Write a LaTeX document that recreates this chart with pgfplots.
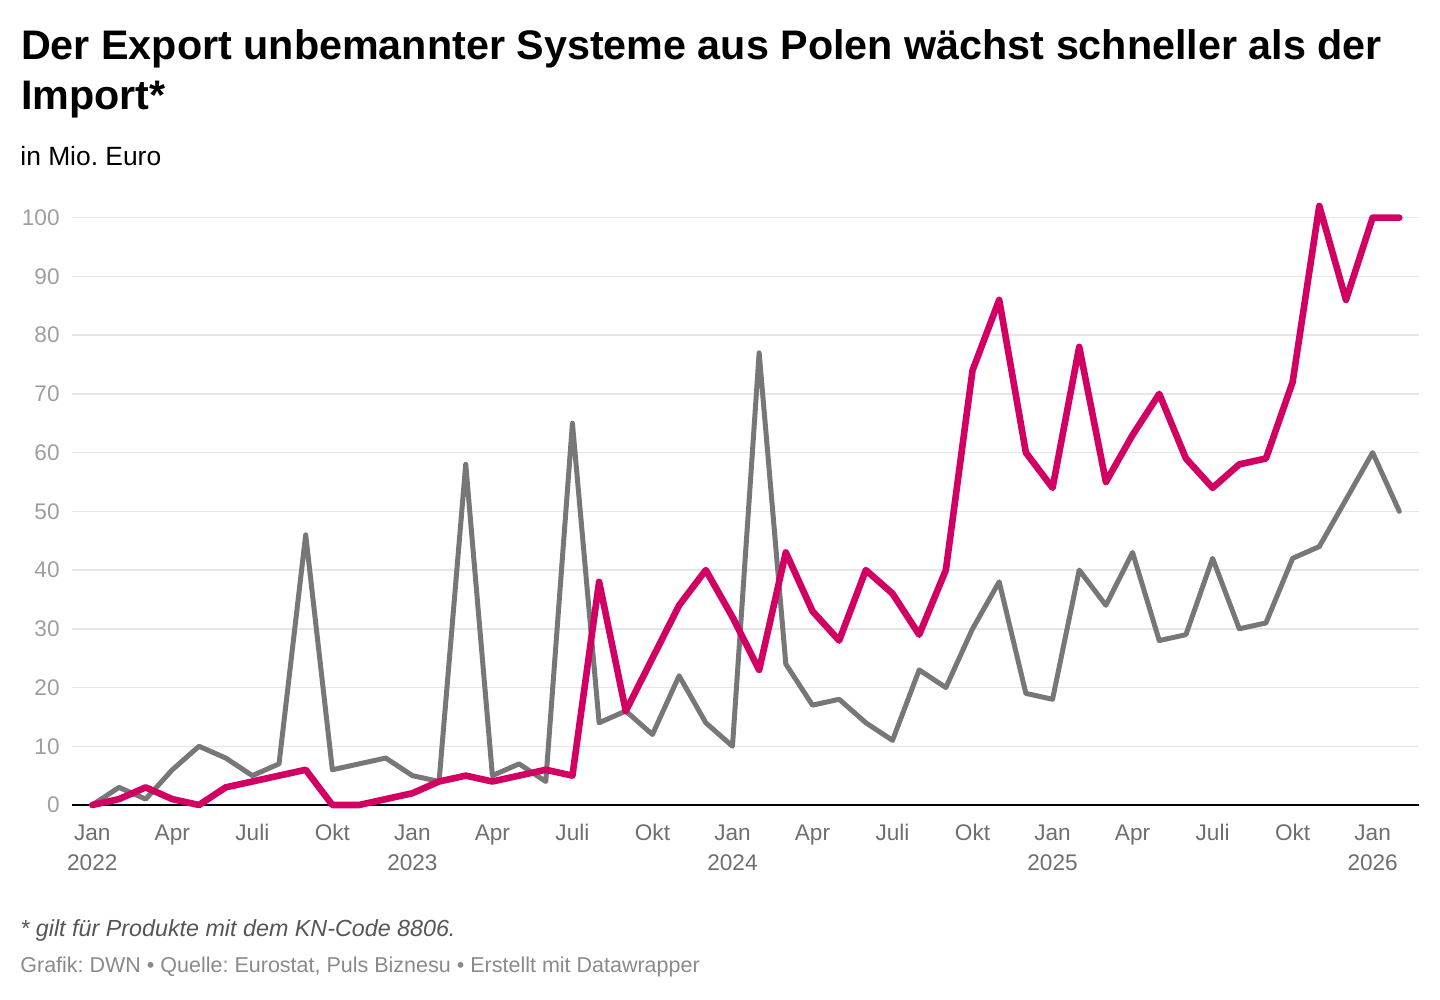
\documentclass[border=0pt]{standalone}
\usepackage{fontspec}
\setmainfont{Liberation Sans}
\usepackage{pgfplots}
\pgfplotsset{compat=1.18}
\frenchspacing
\definecolor{expcol}{HTML}{D20062}
\definecolor{impcol}{HTML}{777777}
\definecolor{gridcol}{HTML}{E6E6E6}
\definecolor{ylab}{HTML}{9E9E9E}
\definecolor{xlab}{HTML}{6E6E6E}
\definecolor{foot}{HTML}{555555}
\definecolor{src}{HTML}{8A8A8A}
\newcommand{\tl}[1]{\vphantom{Jl}#1}
\pgfplotstableread{
x imp exp
0 0 0
1 3 1
2 1 3
3 6 1
4 10 0
5 8 3
6 5 4
7 7 5
8 46 6
9 6 0
10 7 0
11 8 1
12 5 2
13 4 4
14 58 5
15 5 4
16 7 5
17 4 6
18 65 5
19 14 38
20 16 16
21 12 25
22 22 34
23 14 40
24 10 32
25 77 23
26 24 43
27 17 33
28 18 28
29 14 40
30 11 36
31 23 29
32 20 40
33 30 74
34 38 86
35 19 60
36 18 54
37 40 78
38 34 55
39 43 63
40 28 70
41 29 59
42 42 54
43 30 58
44 31 59
45 42 72
46 44 102
47 52 86
48 60 100
49 50 100
}\datatable
\begin{document}
\begin{tikzpicture}
\path[use as bounding box] (0,0) rectangle (720pt,500pt);
\begin{axis}[
  at={(36.15pt,97.5pt)}, anchor=south west,
  scale only axis, width=673.5pt, height=305.4pt,
  xmin=-0.75, xmax=49.75, ymin=0, ymax=104,
  clip=false,
  axis line style={draw=none},
  major tick length=0pt,
  ytick={0,10,...,100},
  ymajorgrids,
  grid style={color=gridcol, line width=0.75pt},
  extra y ticks={0},
  extra y tick labels={},
  extra y tick style={grid style={color=black, line width=1pt}},
  yticklabel style={font=\fontsize{11.3}{13}\selectfont, color=ylab, anchor=east, inner sep=0pt, xshift=-6.15pt},
  /pgf/number format/assume math mode=true,
  xtick={0,3,...,48},
  xticklabels={{\tl{Jan}\\2022},\tl{Apr},\tl{Juli},\tl{Okt},{\tl{Jan}\\2023},\tl{Apr},\tl{Juli},\tl{Okt},{\tl{Jan}\\2024},\tl{Apr},\tl{Juli},\tl{Okt},{\tl{Jan}\\2025},\tl{Apr},\tl{Juli},\tl{Okt},{\tl{Jan}\\2026}},
  xticklabel style={font=\fontsize{11.3}{15}\selectfont, color=xlab, align=center, anchor=north, inner sep=0pt, yshift=-9.5pt},
]
\addplot[impcol, line width=2.5pt, line join=round, line cap=round] table[x=x, y=imp] {\datatable};
\addplot[expcol, line width=3.3pt, line join=round, line cap=round] table[x=x, y=exp] {\datatable};
\end{axis}
\node[anchor=base west, inner sep=0, font=\bfseries\fontsize{20.65}{25}\selectfont] at (10.3pt,470.3pt) {Der Export unbemannter Systeme aus Polen wächst schneller als der};
\node[anchor=base west, inner sep=0, font=\bfseries\fontsize{20.65}{25}\selectfont] at (10.3pt,445pt) {Import*};
\node[anchor=base west, inner sep=0, font=\fontsize{13.2}{15}\selectfont] at (10pt,417pt) {in Mio. Euro};
\node[anchor=base west, inner sep=0, font=\itshape\fontsize{11.65}{13}\selectfont, color=foot] at (10pt,31.5pt) {* gilt für Produkte mit dem KN-Code 8806.};
\node[anchor=base west, inner sep=0, font=\fontsize{10.75}{12}\selectfont, color=src] at (10pt,13.5pt) {Grafik: DWN • Quelle: Eurostat, Puls Biznesu • Erstellt mit Datawrapper};
\end{tikzpicture}
\end{document}
